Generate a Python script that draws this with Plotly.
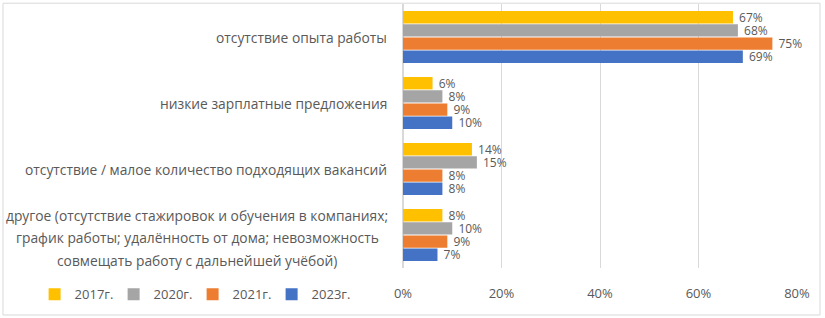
import plotly.graph_objects as go

categories = [
    "отсутствие опыта работы",
    "низкие зарплатные предложения",
    "отсутствие / малое количество подходящих вакансий",
    "другое (отсутствие стажировок и обучения в компаниях;<br>график работы; удалённость от дома; невозможность<br>совмещать работу с дальнейшей учёбой)",
]
series_names = ["2017г.", "2020г.", "2021г.", "2023г."]
v2017 = [0.67, 0.06, 0.14, 0.08]
v2020 = [0.68, 0.08, 0.15, 0.10]
v2021 = [0.75, 0.09, 0.08, 0.09]
v2023 = [0.69, 0.10, 0.08, 0.07]
colors = ["#FFC000", "#A5A5A5", "#ED7D31", "#4472C4"]
tick_vals = [0, 0.2, 0.4, 0.6, 0.8]
tick_text = ["0%", "20%", "40%", "60%", "80%"]

TXT = "#595959"
FONT = "Open Sans, Liberation Sans, sans-serif"

fig = go.Figure()
for name, vals, col in zip(series_names, [v2017, v2020, v2021, v2023], colors):
    fig.add_trace(go.Bar(
        y=list(range(len(categories))), x=vals, name=name, orientation="h",
        marker=dict(color=col, line=dict(width=0)),
        text=[f" {round(v*100)}%" for v in vals], textposition="outside",
        constraintext="none",
        textfont=dict(color=TXT, size=12, family=FONT),
        cliponaxis=False,
    ))

# category labels (multi-line ones drawn line by line for Excel-like line spacing)
for i, c in enumerate(categories):
    lines = c.split("<br>")
    n = len(lines)
    for j, ln in enumerate(lines):
        off = (j - (n - 1) / 2) * 0.34 + (0.045 if n > 1 else 0)
        fig.add_annotation(
            x=-0.035 if n == 1 else (197 - 403) / 394, y=i + off,
            xref="paper", yref="y", text=ln, showarrow=False,
            xanchor="right" if n == 1 else "center",
            yanchor="middle",
            font=dict(color=TXT, size=13.8, family=FONT),
        )

fig.update_layout(
    width=825, height=318,
    margin=dict(l=403, r=28, t=4, b=50, autoexpand=False),
    paper_bgcolor="white", plot_bgcolor="white",
    barmode="group", bargap=0.2, bargroupgap=0.06,
    showlegend=True,
    legend=dict(orientation="h", x=-0.935, y=-0.1, xanchor="left", yanchor="middle",
                font=dict(color=TXT, size=13, family=FONT),
                itemwidth=30, entrywidth=34, entrywidthmode="pixels",
                traceorder="normal", bgcolor="rgba(0,0,0,0)"),
    xaxis=dict(range=[0, 0.8], tickvals=tick_vals, ticktext=tick_text,
               showgrid=True, gridcolor="#d9d9d9", gridwidth=1, zeroline=True,
               zerolinecolor="#d9d9d9", ticks="", ticklabelstandoff=16,
               tickfont=dict(color=TXT, size=13, family=FONT)),
    yaxis=dict(range=[3.5, -0.5], showticklabels=False, showgrid=False,
               zeroline=False, ticks=""),
    shapes=[dict(type="rect", xref="paper", yref="paper",
                 x0=-400/394, x1=417/394, y0=-0.178, y1=1.003,
                 line=dict(color="#d9d9d9", width=1))],
)

fig.write_html("out.html", config={"displayModeBar": False},
               post_script="document.body.style.margin='0';document.body.style.overflow='hidden';")
